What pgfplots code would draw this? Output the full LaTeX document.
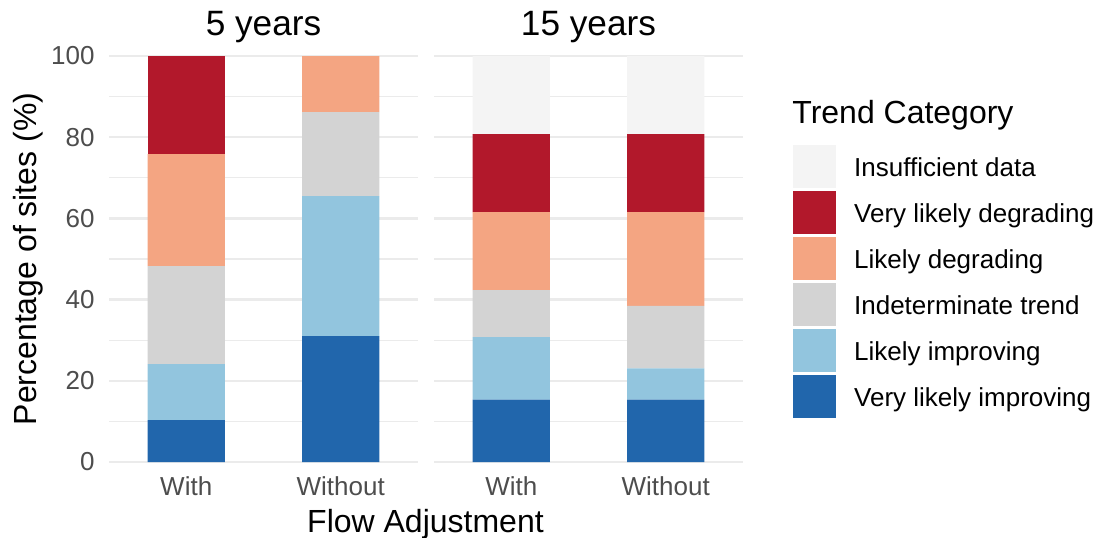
\documentclass[border=0pt]{standalone}
\usepackage{pgfplots}
\pgfplotsset{compat=1.18}
\usepackage{fontspec}
\setmainfont{Liberation Sans}
\definecolor{vli}{HTML}{2166AC}
\definecolor{li}{HTML}{92C5DE}
\definecolor{ind}{HTML}{D3D3D3}
\definecolor{ld}{HTML}{F4A582}
\definecolor{vld}{HTML}{B2182B}
\definecolor{ins}{HTML}{F4F4F4}
\definecolor{grd}{HTML}{EBEBEB}
\definecolor{tck}{HTML}{4D4D4D}

\pgfplotsset{
  sq/.style={legend image code/.code={\fill[##1] (0pt,-10.75pt) rectangle (21.5pt,10.75pt);}},
  panel/.style={
    scale only axis, width=154.5pt, height=203pt,
    anchor=south west,
    xmin=0.5, xmax=2.5, ymin=0, ymax=100,
    enlargelimits=false,
    ybar stacked, bar width=0.5,
    axis line style={draw=none},
    major tick length=0pt, minor tick length=0pt,
    xtick={1,2}, xticklabels={With,Without},
    ytick={0,20,40,60,80,100},
    minor ytick={10,30,50,70,90},
    ymajorgrids, yminorgrids,
    major grid style={color=grd, line width=1.2pt},
    minor grid style={color=grd, line width=0.6pt},
    /pgf/number format/assume math mode=true,
    ticklabel style={font=\fontsize{13}{15}\selectfont, text=tck, inner sep=0pt},
    xticklabel style={anchor=base, yshift=-16.5pt},
    yticklabel style={anchor=east, xshift=-7pt},
    title style={at={(0.5,1)}, anchor=base, yshift=4.5pt, inner sep=0pt, font=\fontsize{17.6}{20}\selectfont},
  },
}

\begin{document}
\begin{tikzpicture}
\useasboundingbox (0,0) rectangle (550pt,268.5pt);

% Panel 1: 5 years
\begin{axis}[panel, at={(54.5pt,37.5pt)}, title={5 years}]
\addplot[fill=vli, draw=none] coordinates {(1,10.345) (2,31.034)};
\addplot[fill=li, draw=none] coordinates {(1,13.793) (2,34.483)};
\addplot[fill=ind, draw=none] coordinates {(1,24.138) (2,20.690)};
\addplot[fill=ld, draw=none] coordinates {(1,27.586) (2,13.793)};
\addplot[fill=vld, draw=none] coordinates {(1,24.138) (2,0)};
\end{axis}

% Panel 2: 15 years
\begin{axis}[panel, at={(217pt,37.5pt)}, title={15 years}, yticklabels={},
  reverse legend, legend cell align=left,
  legend style={at={(1.1623,0.7808)}, anchor=north west, draw=none, fill=none,
    inner sep=0pt, outer sep=0pt, row sep=1.5pt,
    font=\fontsize{13}{15}\selectfont,
    nodes={inner sep=0pt, yshift=-1pt},
    /tikz/every odd column/.append style={column sep=9pt}}]
\addplot[fill=vli, draw=none, sq] coordinates {(1,15.385) (2,15.385)};
\addlegendentry{Very likely improving}
\addplot[fill=li, draw=none, sq] coordinates {(1,15.385) (2,7.692)};
\addlegendentry{Likely improving}
\addplot[fill=ind, draw=none, sq] coordinates {(1,11.538) (2,15.385)};
\addlegendentry{Indeterminate trend}
\addplot[fill=ld, draw=none, sq] coordinates {(1,19.231) (2,23.077)};
\addlegendentry{Likely degrading}
\addplot[fill=vld, draw=none, sq] coordinates {(1,19.231) (2,19.231)};
\addlegendentry{Very likely degrading}
\addplot[fill=ins, draw=none, sq] coordinates {(1,19.231) (2,19.231)};
\addlegendentry{Insufficient data}
\end{axis}

\node[rotate=90, anchor=base, inner sep=0pt, font=\fontsize{16}{19}\selectfont] at (18pt,139pt) {Percentage of sites (\%)};
\node[anchor=base, inner sep=0pt, font=\fontsize{16}{19}\selectfont] at (212.75pt,2.5pt) {Flow Adjustment};
\node[anchor=base west, inner sep=0pt, font=\fontsize{16}{19}\selectfont] at (396pt,207pt) {Trend Category};
\end{tikzpicture}
\end{document}
